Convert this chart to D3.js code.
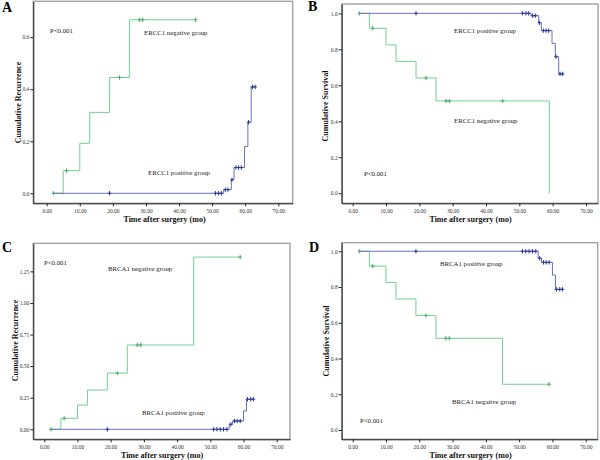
<!DOCTYPE html>
<html>
<head>
<meta charset="utf-8">
<script src="https://cdn.jsdelivr.net/npm/d3@7"></script>
<style>
  body { margin: 0; background: #fff; }
  text { font-family: "Liberation Serif", "Times New Roman", serif; }
</style>
</head>
<body>
<div id="chart"></div>
<script>
const svgWidth = 600;
const svgHeight = 460;

// follow-up time ticks (months)
const timeTicks = [0, 10, 20, 30, 40, 50, 60, 70];
const startTime = 2;

// ERCC1 groups
const ercc1PosEventT = [53.5, 55.8, 56.6, 59.8, 60.8, 61.8];
const ercc1PosSurv = [0.987, 0.948, 0.904, 0.833, 0.759, 0.663];
const ercc1PosRecur = [0.014, 0.052, 0.099, 0.180, 0.273, 0.409];
const ercc1PosCensor = [19, 51, 52, 52.8, 54, 54.8, 56, 57.2, 58, 58.8, 61, 62.2, 63];
const ercc1NegEventT = [5, 10, 13, 19, 25, 59];
const ercc1NegSurv = [0.917, 0.825, 0.733, 0.641, 0.513, 0.0];
const ercc1NegRecur = [0.087, 0.192, 0.311, 0.445, 0.667]; // last event is off the scale
const ercc1NegCensor = [2, 6, 22, 28, 29, 45];

// BRCA1 groups
const brca1PosEventT = [55.7, 56.7, 60, 60.9];
const brca1PosSurv = [0.961, 0.938, 0.867, 0.787];
const brca1PosRecur = [0.040, 0.066, 0.145, 0.238];
const brca1PosCensor = [19, 51, 52, 53, 54, 55, 56.2, 57.3, 58.1, 59, 61.2, 62.2, 63];
const brca1NegEventT = [5, 10, 13, 19, 25, 45];
const brca1NegSurv = [0.917, 0.825, 0.733, 0.641, 0.513, 0.256];
const brca1NegRecur = [0.087, 0.192, 0.311, 0.445, 0.667, 1.363];
const brca1NegCensor = [2, 6, 22, 28, 29, 59];

const recurTicksA = [0, 0.2, 0.4, 0.6];
const survTicks = [0, 0.2, 0.4, 0.6, 0.8, 1.0];
const recurTicksC = [0, 0.25, 0.5, 0.75, 1.0, 1.25];

const green = "#74cf93", greenMark = "#46b069";
const blue = "#6672bb", blueMark = "#2a3890";

const panels = [
  {
    letter: "A", letterPos: [2, 12],
    frame: [33.3, 1.3, 292.7, 203.3], xDom: [-4.05, 74.35], yDom: [-0.0385, 0.738],
    yTicks: recurTicksA, yFmt: ".1f", yTitle: "Cumulative Recurrence", yTitlePos: [20.5, 102.5],
    xTitlePos: [164.5, 222], start: 0,
    neg: { t: ercc1NegEventT, v: ercc1NegRecur, c: ercc1NegCensor },
    pos: { t: ercc1PosEventT, v: ercc1PosRecur, c: ercc1PosCensor },
    notes: [["P<0.001", 50, 33], ["ERCC1 negative group", 144, 35], ["ERCC1 positive group", 148, 175]]
  },
  {
    letter: "B", letterPos: [308, 11],
    frame: [341.7, 4, 598, 203.3], xDom: [-3.3, 73.6], yDom: [-0.056, 1.052],
    yTicks: survTicks, yFmt: ".1f", yTitle: "Cumulative Survival", yTitlePos: [328, 106],
    xTitlePos: [470.5, 222], start: 1,
    neg: { t: ercc1NegEventT, v: ercc1NegSurv, c: ercc1NegCensor },
    pos: { t: ercc1PosEventT, v: ercc1PosSurv, c: ercc1PosCensor },
    notes: [["ERCC1 positive group", 454, 33], ["ERCC1 negative group", 454, 123], ["P<0.001", 364, 176]]
  },
  {
    letter: "C", letterPos: [2, 252],
    frame: [33.3, 243.3, 290, 439.3], xDom: [-3.3, 74], yDom: [-0.079, 1.472],
    yTicks: recurTicksC, yFmt: ".2f", yTitle: "Cumulative Recurrence", yTitlePos: [17.5, 340.5],
    xTitlePos: [162, 458], start: 0,
    neg: { t: brca1NegEventT, v: brca1NegRecur, c: brca1NegCensor },
    pos: { t: brca1PosEventT, v: brca1PosRecur, c: brca1PosCensor },
    notes: [["P<0.001", 44, 264.5], ["BRCA1 negative group", 108, 271], ["BRCA1 positive group", 142, 415]]
  },
  {
    letter: "D", letterPos: [309, 252],
    frame: [341.7, 242.7, 597.7, 439.3], xDom: [-3.3, 73.6], yDom: [-0.052, 1.048],
    yTicks: survTicks, yFmt: ".1f", yTitle: "Cumulative Survival", yTitlePos: [329, 341],
    xTitlePos: [470.5, 458], start: 1,
    neg: { t: brca1NegEventT, v: brca1NegSurv, c: brca1NegCensor },
    pos: { t: brca1PosEventT, v: brca1PosSurv, c: brca1PosCensor },
    notes: [["BRCA1 positive group", 440, 266], ["BRCA1 negative group", 452, 404], ["P<0.001", 360, 423]]
  }
];

const svg = d3.select("#chart")
  .append("svg")
  .attr("width", svgWidth)
  .attr("height", svgHeight);

// value of the step function at time tt
function stepValue(times, vals, s0, tt) {
  let val = s0;
  vals.forEach((v, i) => { if (times[i] <= tt) val = v; });
  return val;
}

function drawGroup(chart, g, s0, x, y, lineColor, markColor) {
  const n = g.v.length;
  const times = g.t.slice(0, n);
  const tEnd = Math.max(times[n - 1], d3.max(g.c));
  const pts = [[startTime, s0]];
  times.forEach((t, i) => pts.push([t, g.v[i]]));
  pts.push([tEnd, g.v[n - 1]]);

  const line = d3.line()
    .x(d => x(d[0]))
    .y(d => y(d[1]))
    .curve(d3.curveStepAfter);

  chart.append("path")
    .datum(pts)
    .attr("d", line)
    .attr("fill", "none")
    .attr("stroke", lineColor)
    .attr("stroke-width", 1);

  chart.selectAll(null)
    .data(g.c)
    .enter()
    .append("path")
    .attr("transform", c => `translate(${x(c)},${y(stepValue(times, g.v, s0, c))})`)
    .attr("d", "M-1.8,0H1.8M0,-2.2V2.2")
    .attr("stroke", markColor)
    .attr("stroke-width", 1);
}

panels.forEach(p => {
  const [fx0, fy0, fx1, fy1] = p.frame;
  const x = d3.scaleLinear().domain(p.xDom).range([fx0, fx1]);
  const y = d3.scaleLinear().domain(p.yDom).range([fy1, fy0]);

  const g = svg.append("g");

  g.append("rect")
    .attr("x", fx0).attr("y", fy0)
    .attr("width", fx1 - fx0).attr("height", fy1 - fy0)
    .attr("fill", "#fff")
    .attr("stroke", "#a8a8a8")
    .attr("stroke-width", 1.5);

  const bottomAxis = d3.axisBottom(x)
    .tickValues(timeTicks)
    .tickFormat(d3.format(".2f"))
    .tickSize(3).tickSizeOuter(0).tickPadding(2.5);
  const leftAxis = d3.axisLeft(y)
    .tickValues(p.yTicks)
    .tickFormat(d3.format(p.yFmt))
    .tickSize(3).tickSizeOuter(0).tickPadding(1);

  const xa = g.append("g").attr("transform", `translate(0,${fy1})`).call(bottomAxis);
  const ya = g.append("g").attr("transform", `translate(${fx0},0)`).call(leftAxis);
  [xa, ya].forEach(a => {
    a.selectAll("text").attr("font-size", 5.5).attr("fill", "#333")
      .style("font-family", "Liberation Serif");
    a.selectAll("line, path").attr("stroke", "#222");
  });

  drawGroup(g, p.neg, p.start, x, y, green, greenMark);
  drawGroup(g, p.pos, p.start, x, y, blue, blueMark);

  g.selectAll(null)
    .data(p.notes)
    .enter()
    .append("text")
    .attr("x", d => d[1])
    .attr("y", d => d[2])
    .attr("font-size", 6.8)
    .attr("fill", "#222")
    .text(d => d[0]);

  g.append("text")
    .attr("transform", `translate(${p.yTitlePos[0]},${p.yTitlePos[1]}) rotate(-90)`)
    .attr("text-anchor", "middle")
    .attr("font-size", 8)
    .attr("font-weight", "bold")
    .attr("fill", "#111")
    .text(p.yTitle);

  g.append("text")
    .attr("x", p.xTitlePos[0])
    .attr("y", p.xTitlePos[1])
    .attr("text-anchor", "middle")
    .attr("font-size", 8)
    .attr("font-weight", "bold")
    .attr("fill", "#111")
    .text("Time after surgery (mo)");

  svg.append("text")
    .attr("x", p.letterPos[0])
    .attr("y", p.letterPos[1])
    .attr("font-size", 14)
    .attr("font-weight", "bold")
    .attr("fill", "#000")
    .text(p.letter);
});
</script>
</body>
</html>
